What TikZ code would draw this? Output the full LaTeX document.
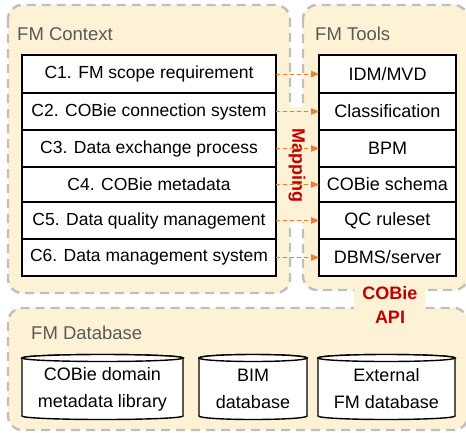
\documentclass[tikz,border=0pt]{standalone}
\usepackage{fontspec}
\setmainfont{Liberation Sans}
\usetikzlibrary{arrows, positioning}

\definecolor{zonefill}{RGB}{254,242,214}
\definecolor{zoneline}{RGB}{191,191,191}
\definecolor{zonetext}{RGB}{89,89,89}
\definecolor{mapred}{RGB}{192,0,0}
\definecolor{maporange}{RGB}{237,125,49}

\tikzset{
  zone/.style={fill=zonefill, draw=zoneline, line width=2.4pt, dash pattern=on 9pt off 6pt, rounded corners=14pt},
  zonelabel/.style={text=zonetext, font=\fontsize{18.5}{20}\selectfont, anchor=west, inner sep=0pt},
  row/.style={draw, fill=white, line width=1.4pt, inner sep=0pt, outer sep=0pt, font=\fontsize{17.5}{19}\selectfont},
  ctxrow/.style={row, minimum width=254pt},
  toolrow/.style={row, minimum width=137pt, font=\fontsize{18}{19}\selectfont},
  maparrow/.style={draw=maporange, fill=maporange, line width=0.8pt, dash pattern=on 4pt off 3pt, -triangle 45},
  redtag/.style={text=mapred, font=\fontsize{18}{24}\selectfont\bfseries, inner sep=0pt},
  dbline/.style={draw, fill=white, line width=1.4pt},
  dbtext/.style={font=\fontsize{18}{27}\selectfont, align=center, inner sep=0pt}
}

\begin{document}
\begin{tikzpicture}[x=1pt, y=-1pt, node distance=0pt]
  \useasboundingbox (0,0) rectangle (466,432);
  \clip (0,0) rectangle (466,432);

  % zones
  \draw [zone] (8,5) rectangle (290,293);
  \draw [zone] (303,5) rectangle (468,290);
  \draw [zone] (8,308) rectangle (468,430);
  \fill [zonefill] (287,107) rectangle (306,222);
  \fill [zonefill] (354,284) rectangle (425,313);

  \node [zonelabel] (ctxlabel) at (17,34) {FM Context};
  \node [zonelabel] (toolslabel) at (315,34) {FM Tools};
  \node [zonelabel] (dblabel) at (31,333) {FM Database};

  % FM context
  \node [ctxrow, minimum height=38pt] (c1) at (149,74) {C1. FM scope requirement};
  \node [ctxrow, minimum height=37pt, below=of c1] (c2) {C2. COBie connection system};
  \node [ctxrow, minimum height=37pt, below=of c2] (c3) {C3. Data exchange process};
  \node [ctxrow, minimum height=35pt, below=of c3] (c4) {C4. COBie metadata};
  \node [ctxrow, minimum height=37pt, below=of c4] (c5) {C5. Data quality management};
  \node [ctxrow, minimum height=37pt, below=of c5] (c6) {C6. Data management system};

  % FM tools
  \node [toolrow, minimum height=38pt] (t1) at (387.5,74) {IDM/MVD};
  \node [toolrow, minimum height=37pt, below=of t1] (t2) {Classification};
  \node [toolrow, minimum height=37pt, below=of t2] (t3) {BPM};
  \node [toolrow, minimum height=35pt, below=of t3] (t4) {COBie schema};
  \node [toolrow, minimum height=37pt, below=of t4] (t5) {QC ruleset};
  \node [toolrow, minimum height=37pt, below=of t5] (t6) {DBMS/server};

  \node [redtag, rotate=-90] (maplabel) at (297,165) {Mapping};
  \node [redtag, align=center] (apilabel) at (390,305) {COBie\\API};

  \foreach \i in {1,...,6}
    \draw [maparrow] (c\i.east) -- (t\i.west);

  % FM database
  \filldraw [dbline] (22,358) -- (22,416) arc [start angle=180, end angle=360, x radius=80.5pt, y radius=3.5pt]
    -- (183,358) arc [start angle=0, end angle=180, x radius=80.5pt, y radius=3.5pt] -- cycle;
  \draw [dbline] (102.5,358) ellipse [x radius=80.5pt, y radius=3.5pt];
  \filldraw [dbline] (199,358) -- (199,416) arc [start angle=180, end angle=360, x radius=54pt, y radius=3.5pt]
    -- (307,358) arc [start angle=0, end angle=180, x radius=54pt, y radius=3.5pt] -- cycle;
  \draw [dbline] (253,358) ellipse [x radius=54pt, y radius=3.5pt];
  \filldraw [dbline] (318,358) -- (318,416) arc [start angle=180, end angle=360, x radius=68.5pt, y radius=3.5pt]
    -- (455,358) arc [start angle=0, end angle=180, x radius=68.5pt, y radius=3.5pt] -- cycle;
  \draw [dbline] (386.5,358) ellipse [x radius=68.5pt, y radius=3.5pt];

  \node [dbtext] (db1) at (102.5,389) {COBie domain\\metadata library};
  \node [dbtext] (db2) at (253,389) {BIM\\database};
  \node [dbtext] (db3) at (386.5,389) {External\\FM database};
\end{tikzpicture}
\end{document}
